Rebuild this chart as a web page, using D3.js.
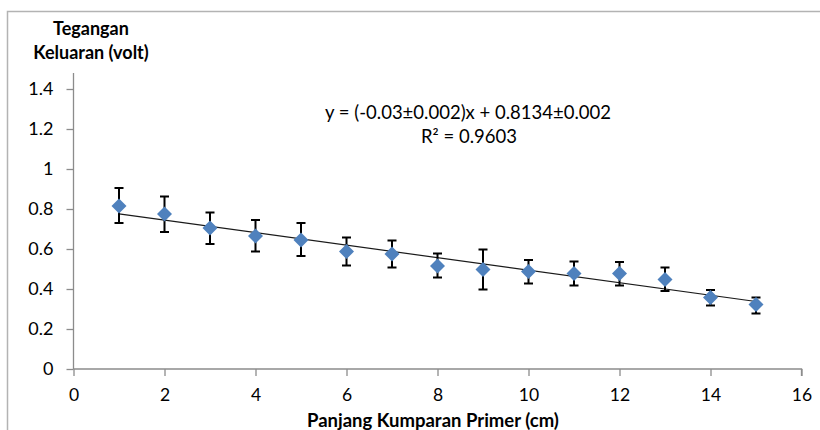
<!DOCTYPE html>
<html>
<head>
<meta charset="utf-8">
<script src="https://cdn.jsdelivr.net/npm/d3@7/dist/d3.min.js"></script>
<style>
  html, body { margin: 0; padding: 0; background: #fff; }
  svg { display: block; font-family: Lato, "Open Sans", sans-serif; }
</style>
</head>
<body>
<svg id="chart" width="820" height="430"></svg>
<script>
// ---- data ----
const xValues = [1, 2, 3, 4, 5, 6, 7, 8, 9, 10, 11, 12, 13, 14, 15];
const yValues = [0.815, 0.775, 0.705, 0.665, 0.645, 0.587, 0.575, 0.515, 0.497, 0.488, 0.478, 0.478, 0.447, 0.358, 0.322];
const errUpper = [0.905, 0.862, 0.782, 0.745, 0.73, 0.657, 0.642, 0.578, 0.597, 0.545, 0.537, 0.535, 0.507, 0.395, 0.358];
const errLower = [0.73, 0.685, 0.625, 0.588, 0.565, 0.517, 0.508, 0.458, 0.398, 0.428, 0.417, 0.418, 0.39, 0.318, 0.278];
const xTicks = [0, 2, 4, 6, 8, 10, 12, 14, 16];
const yTicks = [0, 0.2, 0.4, 0.6, 0.8, 1, 1.2, 1.4];
const equationText = "y = (-0.03±0.002)x + 0.8134±0.002";
const r2Text = "R² = 0.9603";
const xTitle = "Panjang Kumparan Primer (cm)";
const yTitleLines = ["Tegangan", "Keluaran (volt)"];

const svg = d3.select("#chart");
const axisColor = "#8c8c8c";

// outer border (chart area)
svg.append("path")
  .attr("d", "M7.5,440 L7.5,11.5 L830,11.5")
  .attr("fill", "none").attr("stroke", "#b3b3b3").attr("stroke-width", 1.5);

const x = d3.scaleLinear().domain([0, 16]).range([73.5, 801.5]);
const y = d3.scaleLinear().domain([0, 1.4]).range([369, 89]);

// y axis
const yAxis = d3.axisLeft(y).tickValues(yTicks).tickSize(7).tickPadding(13)
  .tickFormat(d => d3.format("")(+d.toFixed(1)));
const gy = svg.append("g").attr("transform", `translate(${x(0)},0)`).call(yAxis);
gy.select(".domain").attr("d", `M0,73V${y(0)}`).attr("stroke", axisColor).attr("stroke-width", 1.3);
gy.selectAll(".tick line").attr("stroke", axisColor).attr("stroke-width", 1.3);
gy.selectAll(".tick text").attr("font-size", 18).attr("fill", "#000")
  .attr("font-family", "Lato, sans-serif");

// x axis
const xAxis = d3.axisBottom(x).tickValues(xTicks).tickSize(7).tickPadding(13);
const gx = svg.append("g").attr("transform", `translate(0,${y(0)})`).call(xAxis);
gx.select(".domain").attr("d", `M${x(0)},0H${x(16)}V7`).attr("stroke", axisColor).attr("stroke-width", 1.3);
gx.selectAll(".tick line").attr("stroke", axisColor).attr("stroke-width", 1.3);
gx.selectAll(".tick text").attr("font-size", 17.5).attr("fill", "#000")
  .attr("font-family", "Lato, sans-serif");

// trendline (least squares fit on the data)
const mx = d3.mean(xValues), my = d3.mean(yValues);
let sxy = 0, sxx = 0;
xValues.forEach((xv, i) => { sxy += (xv - mx) * (yValues[i] - my); sxx += (xv - mx) ** 2; });
const slope = sxy / sxx, intercept = my - slope * mx;
const x0 = d3.min(xValues), x1 = d3.max(xValues);
svg.append("line")
  .attr("x1", x(x0)).attr("y1", y(intercept + slope * x0))
  .attr("x2", x(x1)).attr("y2", y(intercept + slope * x1))
  .attr("stroke", "#1a1a1a").attr("stroke-width", 1.2);

// error bars
const eb = svg.append("g").attr("stroke", "#000").attr("stroke-width", 2).attr("fill", "none");
xValues.forEach((xv, i) => {
  const cx = x(xv), yt = y(errUpper[i]), yb = y(errLower[i]);
  eb.append("path").attr("d", `M${cx},${yt}V${yb}M${cx-4.5},${yt}H${cx+4.5}M${cx-4.5},${yb}H${cx+4.5}`);
});

// diamond markers
svg.append("g").selectAll("path").data(xValues).join("path")
  .attr("transform", (d, i) => `translate(${x(d)},${y(yValues[i])})`)
  .attr("d", "M0,-7.5L7.5,0L0,7.5L-7.5,0Z")
  .attr("fill", "#4f81bd");

// equation
svg.append("text").attr("x", 468).attr("y", 119).attr("text-anchor", "middle")
  .attr("font-size", 18.5).attr("fill", "#000").text(equationText);
svg.append("text").attr("x", 469).attr("y", 143).attr("text-anchor", "middle")
  .attr("font-size", 18.5).attr("fill", "#000").text(r2Text);

// axis titles
svg.append("text").attr("x", 433).attr("y", 427).attr("text-anchor", "middle")
  .attr("font-size", 18.5).attr("font-weight", "bold").attr("fill", "#000").text(xTitle);
yTitleLines.forEach((t, i) => {
  svg.append("text").attr("x", 91).attr("y", 35 + i * 24).attr("text-anchor", "middle")
    .attr("font-size", 18).attr("font-weight", "bold").attr("fill", "#000").text(t);
});
</script>
</body>
</html>
